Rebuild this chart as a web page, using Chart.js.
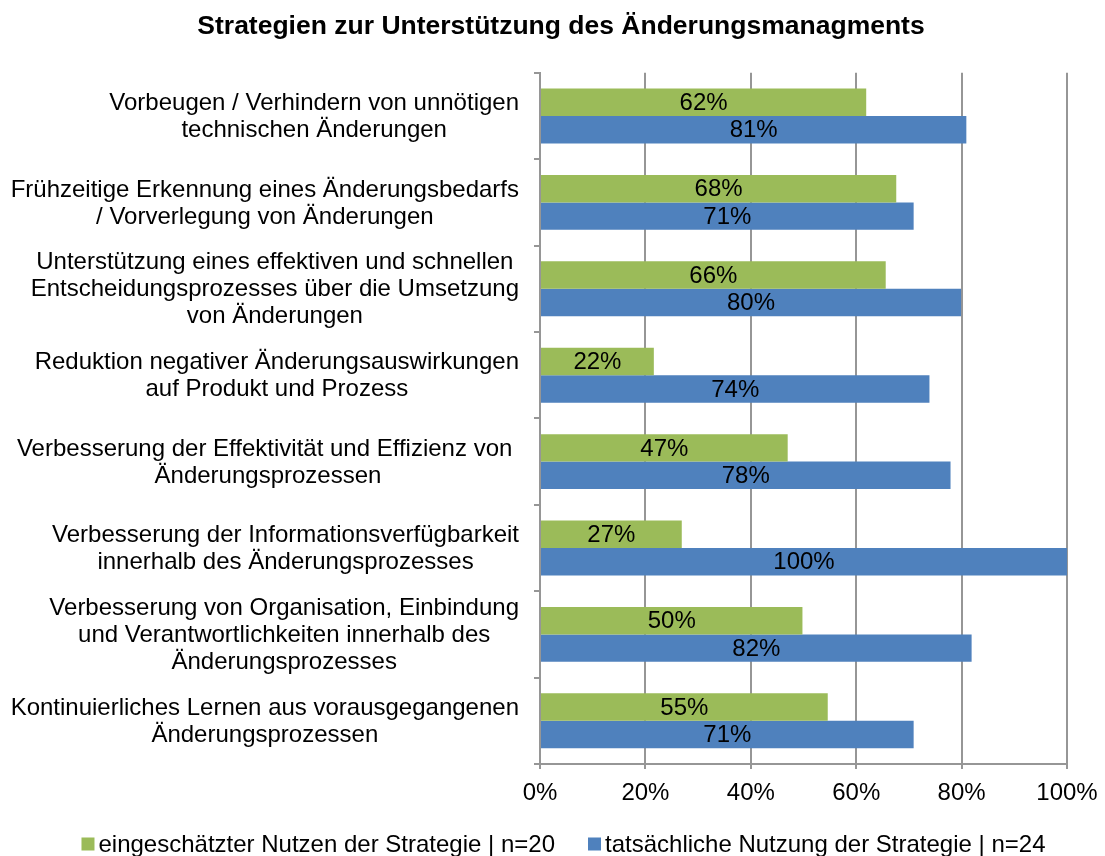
<!DOCTYPE html>
<html>
<head>
<meta charset="utf-8">
<script src="https://cdn.jsdelivr.net/npm/chart.js@4/dist/chart.umd.min.js"></script>
<style>
  html, body { margin: 0; padding: 0; background: #fff; }
  #wrap { width: 1105px; height: 856px; }
</style>
</head>
<body>
<div id="wrap"><canvas id="chart" width="1105" height="856"></canvas></div>
<script>
const categories = [
  ['Vorbeugen / Verhindern von unnötigen', 'technischen Änderungen'],
  ['Frühzeitige Erkennung eines Änderungsbedarfs', '/ Vorverlegung von Änderungen'],
  ['Unterstützung eines effektiven und schnellen', 'Entscheidungsprozesses über die Umsetzung', 'von Änderungen'],
  ['Reduktion negativer Änderungsauswirkungen', 'auf Produkt und Prozess'],
  ['Verbesserung der Effektivität und Effizienz von ', 'Änderungsprozessen'],
  ['Verbesserung der Informationsverfügbarkeit', 'innerhalb des Änderungsprozesses'],
  ['Verbesserung von Organisation, Einbindung', 'und Verantwortlichkeiten innerhalb des', 'Änderungsprozesses'],
  ['Kontinuierliches Lernen aus vorausgegangenen', 'Änderungsprozessen']
];
const nutzen = [61.9, 67.6, 65.6, 21.6, 47, 26.9, 49.8, 54.6];
const nutzung = [80.9, 70.9, 79.9, 73.9, 77.9, 100, 81.9, 70.9];
const seriesNames = ['eingeschätzter Nutzen der Strategie | n=20', 'tatsächliche Nutzung der Strategie | n=24'];
const xTicks = [0, 20, 40, 60, 80, 100];

const FONT = "'Liberation Sans', Arial, sans-serif";
const FS = 24;
const GRID = '#969696';

// category labels: block right-aligned, lines centered inside the block
const catLabels = {
  id: 'catLabels',
  afterDraw(chart) {
    const ctx = chart.ctx;
    const ys = chart.scales.y;
    ctx.save();
    ctx.font = FS + 'px ' + FONT;
    ctx.fillStyle = '#000';
    ctx.textAlign = 'center';
    ctx.textBaseline = 'middle';
    const right = ys.right - 21;
    const lh = 27;
    categories.forEach((lines, i) => {
      const yc = ys.getPixelForValue(i) + 1;
      const w = Math.max(...lines.map(l => ctx.measureText(l).width));
      const cx = right - w / 2;
      const y0 = yc - (lines.length - 1) * lh / 2;
      lines.forEach((l, k) => ctx.fillText(l, cx, y0 + k * lh));
    });
    ctx.restore();
  }
};

// value labels in the middle of each bar
const barValues = {
  id: 'barValues',
  afterDatasetsDraw(chart) {
    const ctx = chart.ctx;
    ctx.save();
    ctx.font = FS + 'px ' + FONT;
    ctx.fillStyle = '#000';
    ctx.textAlign = 'center';
    ctx.textBaseline = 'middle';
    chart.data.datasets.forEach((ds, di) => {
      chart.getDatasetMeta(di).data.forEach((bar, i) => {
        ctx.fillText(Math.round(ds.data[i]) + '%', (bar.x + bar.base) / 2, bar.y + 1);
      });
    });
    ctx.restore();
  }
};

// legend at the bottom
const bottomLegend = {
  id: 'bottomLegend',
  afterDraw(chart) {
    const ctx = chart.ctx;
    ctx.save();
    ctx.font = FS + 'px ' + FONT;
    ctx.textBaseline = 'middle';
    const box = 13, gapText = 4, gapItem = 33;
    const items = chart.data.datasets.map(ds => ({
      text: ds.label, color: ds.backgroundColor, w: box + gapText + ctx.measureText(ds.label).width
    }));
    const total = items.reduce((s, it) => s + it.w, 0) + gapItem * (items.length - 1);
    let x = 563.5 - total / 2;
    const y = 844;
    items.forEach(it => {
      ctx.fillStyle = it.color;
      ctx.fillRect(x, y - box / 2, box, box);
      ctx.fillStyle = '#000';
      ctx.textAlign = 'left';
      ctx.fillText(it.text, x + box + gapText, y + 1);
      x += it.w + gapItem;
    });
    ctx.restore();
  }
};

new Chart(document.getElementById('chart'), {
  type: 'bar',
  data: {
    labels: categories.map(c => c.join(' ')),
    datasets: [
      { label: seriesNames[0], data: nutzen, backgroundColor: '#9BBB59' },
      { label: seriesNames[1], data: nutzung, backgroundColor: '#4F81BD' }
    ]
  },
  options: {
    indexAxis: 'y',
    responsive: false,
    animation: false,
    maintainAspectRatio: false,
    categoryPercentage: 0.635,
    barPercentage: 1,
    layout: { padding: { top: 0, right: 38, bottom: 32, left: 55 } },
    plugins: {
      legend: { display: false },
      tooltip: { enabled: false },
      title: {
        display: true,
        text: 'Strategien zur Unterstützung des Änderungsmanagments',
        color: '#000',
        font: { family: FONT, size: 26.5, weight: 'bold' },
        padding: { top: 11, bottom: 30 }
      }
    },
    scales: {
      x: {
        min: 0,
        max: 100,
        afterBuildTicks(scale) { scale.ticks = xTicks.map(v => ({ value: v })); },
        afterFit(scale) { scale.height = 60; scale.paddingRight = 0; scale.paddingLeft = 0; },
        ticks: {
          color: '#000',
          font: { family: FONT, size: FS },
          padding: 10,
          maxRotation: 0,
          callback: v => v + '%'
        },
        grid: { color: GRID, lineWidth: 2, tickLength: 5, drawTicks: true },
        border: { color: GRID, width: 2 }
      },
      y: {
        afterFit(scale) { scale.width = 485; },
        ticks: { display: false },
        grid: { display: true, offset: true, drawOnChartArea: false, drawTicks: true, tickLength: 6, color: GRID, lineWidth: 2 },
        border: { color: GRID, width: 2 }
      }
    }
  },
  plugins: [catLabels, barValues, bottomLegend]
});
</script>
</body>
</html>
